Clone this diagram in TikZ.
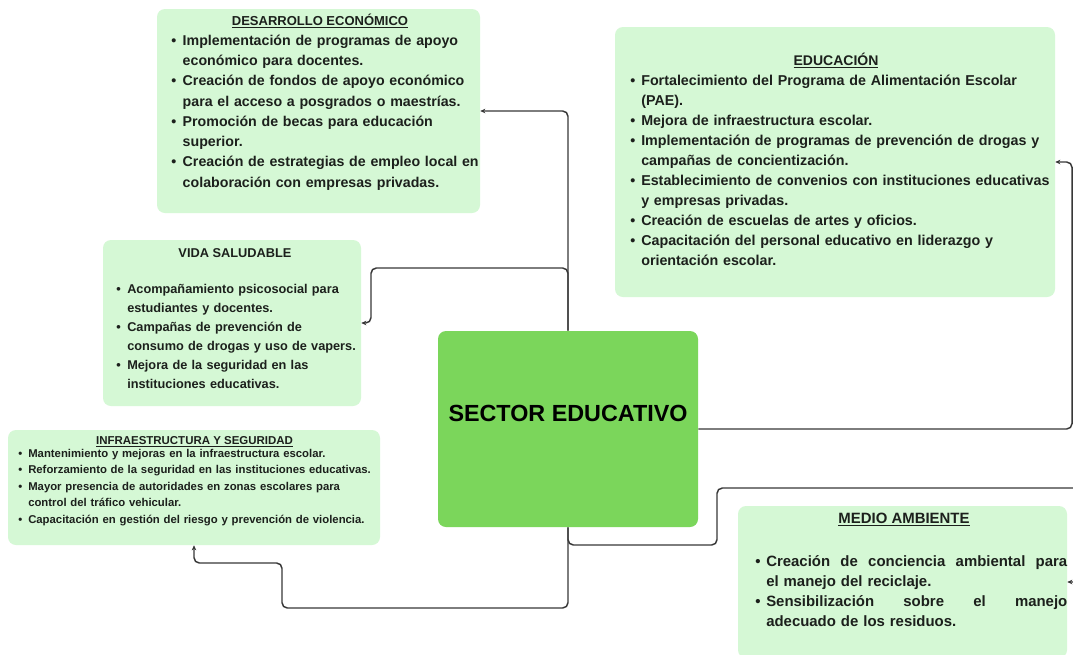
\documentclass[tikz,border=0pt]{standalone}
\usepackage{fontspec}
\setmainfont{Liberation Sans}
\usetikzlibrary{arrows.meta}
\definecolor{boxg}{HTML}{D5F8D5}
\definecolor{ctrg}{HTML}{7BD65B}
\definecolor{ink}{HTML}{1C201C}
\definecolor{lnk}{HTML}{383838}
\newlength\ind
\newcommand\itm[1]{\makebox[\ind][l]{\strut•}#1}
\newcommand\cnt[1]{\hspace*{\ind}\strut#1}
\begin{document}
\begin{tikzpicture}[x=0.75pt,y=-0.75pt,
  box/.style={rectangle, rounded corners=6pt, fill=boxg, draw=none, inner sep=0pt},
  ttl/.style={anchor=base, inner sep=0pt, text=ink},
  body/.style={anchor=north west, inner sep=0pt, text width=340pt, align=left, text=ink},
  conn/.style={draw=lnk, line width=1.1pt, rounded corners=4pt, -{Stealth[length=3.8pt,width=3.4pt]}}]
\useasboundingbox (0,0) rectangle (1073,654);
\fill[white] (0,0) rectangle (1073,654);

% boxes
\node[box, minimum width=242.25pt, minimum height=153pt] (dev) at (318.5,111) {};
\node[box, minimum width=330pt, minimum height=202.5pt] (edu) at (835,162) {};
\node[box, minimum width=193.5pt, minimum height=124.5pt] (vida) at (232,323) {};
\node[box, minimum width=279pt, minimum height=86.25pt] (infra) at (194,487.5) {};
\node[box, minimum width=246.75pt, minimum height=114pt] (medio) at (902.5,582) {};
\node[box, fill=ctrg, minimum width=195pt, minimum height=147pt] (ctr) at (568,429) {};

% centre label
\node[ttl, font=\bfseries\fontsize{17.5pt}{20pt}\selectfont, text=black] (ctrT) at (568,421.7) {SECTOR EDUCATIVO};

% connectors
\draw[conn] (ctr.north) |- (dev.east);
\draw[conn] (ctr.north) |- (371,268) |- (vida.east);
\draw[conn] (ctr.east) -- (1072,429) |- (edu.east);
\draw[conn] (ctr.south) |- (717,545) |- (1090,488) |- (medio.east);
\coordinate (k) at (282,563);
\draw[conn] (ctr.south) |- (282,608) -- (k) -- (infra.south |- k) -- (infra.south);

% DESARROLLO ECONOMICO
\node[ttl, font=\bfseries\fontsize{9.75pt}{12pt}\selectfont] (devT) at (320,25) {\underline{DESARROLLO ECONÓMICO}};
\setlength\ind{8.6pt}
\node[body, font=\bfseries\fontsize{10.65pt}{15.2pt}\selectfont] (devB) at (171,30.8) {%
\itm{Implementación de programas de apoyo}\\
\cnt{económico para docentes.}\\
\itm{Creación de fondos de apoyo económico}\\
\cnt{para el acceso a posgrados o maestrías.}\\
\itm{Promoción de becas para educación}\\
\cnt{superior.}\\
\itm{Creación de estrategias de empleo local en}\\
\cnt{colaboración con empresas privadas.}};

% EDUCACION
\node[ttl, font=\bfseries\fontsize{10.5pt}{12pt}\selectfont] (eduT) at (836,65.7) {\underline{EDUCACIÓN}};
\setlength\ind{8.25pt}
\node[body, font=\bfseries\fontsize{10.72pt}{15pt}\selectfont] (eduB) at (630,71.3) {%
\itm{Fortalecimiento del Programa de Alimentación Escolar}\\
\cnt{(PAE).}\\
\itm{Mejora de infraestructura escolar.}\\
\itm{Implementación de programas de prevención de drogas y}\\
\cnt{campañas de concientización.}\\
\itm{Establecimiento de convenios con instituciones educativas}\\
\cnt{y empresas privadas.}\\
\itm{Creación de escuelas de artes y oficios.}\\
\itm{Capacitación del personal educativo en liderazgo y}\\
\cnt{orientación escolar.}};

% VIDA SALUDABLE
\node[ttl, font=\bfseries\fontsize{9.6pt}{12pt}\selectfont] (vidaT) at (235,257.3) {VIDA SALUDABLE};
\setlength\ind{8.25pt}
\node[body, font=\bfseries\fontsize{9.55pt}{14.25pt}\selectfont] (vidaB) at (116,280) {%
\itm{Acompañamiento psicosocial para}\\
\cnt{estudiantes y docentes.}\\
\itm{Campañas de prevención de}\\
\cnt{consumo de drogas y uso de vapers.}\\
\itm{Mejora de la seguridad en las}\\
\cnt{instituciones educativas.}};

% INFRAESTRUCTURA Y SEGURIDAD
\node[ttl, font=\bfseries\fontsize{8.6pt}{10pt}\selectfont] (infraT) at (194.5,444) {\underline{INFRAESTRUCTURA Y SEGURIDAD}};
\setlength\ind{7.5pt}
\node[body, font=\bfseries\fontsize{8.5pt}{12.26pt}\selectfont] (infraB) at (18,445.9) {%
\itm{Mantenimiento y mejoras en la infraestructura escolar.}\\
\itm{Reforzamiento de la seguridad en las instituciones educativas.}\\
\itm{Mayor presencia de autoridades en zonas escolares para}\\
\cnt{control del tráfico vehicular.}\\
\itm{Capacitación en gestión del riesgo y prevención de violencia.}};

% MEDIO AMBIENTE
\node[ttl, font=\bfseries\fontsize{11.2pt}{13pt}\selectfont] (medioT) at (904,523.3) {\underline{MEDIO AMBIENTE}};
\setlength\ind{8.25pt}
\node[body, font=\bfseries\fontsize{11.2pt}{15pt}\selectfont] (medioB) at (755,552.7) {%
\itm{\hbox to 225.75pt{Creación\hfill de\hfill conciencia\hfill ambiental\hfill para}}\\
\cnt{el manejo del reciclaje.}\\
\itm{\hbox to 225.75pt{Sensibilización\hfill sobre\hfill el\hfill manejo}}\\
\cnt{adecuado de los residuos.}};
\end{tikzpicture}
\end{document}
